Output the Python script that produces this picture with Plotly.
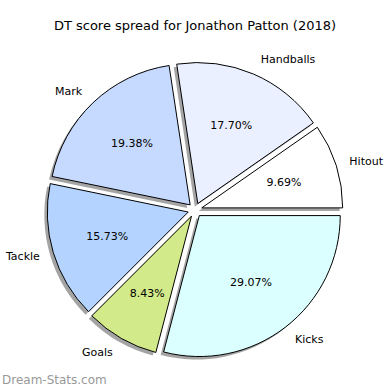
import plotly.graph_objects as go

categories = ["Hitout", "Handballs", "Mark", "Tackle", "Goals", "Kicks"]
dt_points = [69, 126, 138, 112, 60, 207]
colors = ["#ffffff", "#eaf0ff", "#c6d9ff", "#b4d4ff", "#d3ea8a", "#dafffe"]
title = "DT score spread for Jonathon Patton (2018)"
watermark = "Dream-Stats.com"

W = H = 390
cx, cy = 195, 210
half = 148
pull = 0.05
pct_distance = 0.6          # percentage text at 0.6 of the radius
r_main = half / (1 + pull)
R_pct = 112                 # outer radius of invisible helper donut carrying the percentages
hole_pct = 2 * pct_distance * r_main / R_pct - 1   # ring middle lands at pct_distance * r
pull_pct = pull * r_main / R_pct                   # same explode offset in pixels
# first slice starts at 3 o'clock, counterclockwise (plotly puts the END of the first slice at `rotation`)
rotation = 90 - 360 * dt_points[0] / sum(dt_points)

def dom(dx=0, dy=0, h=half):
    x0 = (cx - h + dx) / W
    x1 = (cx + h + dx) / W
    y0 = 1 - (cy + h + dy) / H
    y1 = 1 - (cy - h + dy) / H
    return dict(x=[x0, x1], y=[y0, y1])

base = dict(labels=categories, values=dt_points, sort=False,
            direction="counterclockwise", rotation=rotation,
            hoverinfo="skip", showlegend=False)
pulls = [pull] * len(categories)
clear = ["rgba(0,0,0,0)"] * len(categories)

fig = go.Figure()
# shadow
fig.add_trace(go.Pie(**base, pull=pulls, domain=dom(-3, 3),
                     marker=dict(colors=["rgba(90,90,90,0.55)"] * 6, line=dict(width=0)),
                     textinfo="none"))
# main pie
fig.add_trace(go.Pie(**base, pull=pulls, domain=dom(),
                     marker=dict(colors=colors, line=dict(color="#000000", width=1)),
                     textinfo="none"))
# percentages (invisible helper donut)
fig.add_trace(go.Pie(**base, pull=[pull_pct] * len(categories), hole=hole_pct,
                     domain=dom(h=R_pct * (1 + pull_pct)),
                     marker=dict(colors=clear, line=dict(width=0)),
                     texttemplate="%{percent:.2%}",
                     textposition="inside", insidetextorientation="horizontal",
                     textfont=dict(family="DejaVu Sans", size=11, color="#000000")))
# labels outside
fig.add_trace(go.Pie(**base, pull=pulls, domain=dom(h=half * 1.07),
                     marker=dict(colors=clear, line=dict(width=0)),
                     textinfo="label", textposition="outside",
                     outsidetextfont=dict(family="DejaVu Sans", size=11, color="#000000")))

fig.update_layout(
    width=W, height=H, margin=dict(l=0, r=0, t=0, b=0, autoexpand=False),
    showlegend=False,
    paper_bgcolor="white", plot_bgcolor="white",
    title=dict(text=title, x=0.5, xanchor="center", y=1 - 25 / H, yanchor="middle",
               font=dict(family="DejaVu Sans", size=13, color="#000000")),
    annotations=[dict(text=watermark, x=0, y=1 - 380 / H,
                      xref="paper", yref="paper", xanchor="left", yanchor="middle",
                      showarrow=False,
                      font=dict(family="DejaVu Sans", size=12, color="#999999"))],
)
fig.write_html("out.html", config={"displayModeBar": False},
               post_script="document.body.style.margin='0';document.body.style.overflow='hidden';")
